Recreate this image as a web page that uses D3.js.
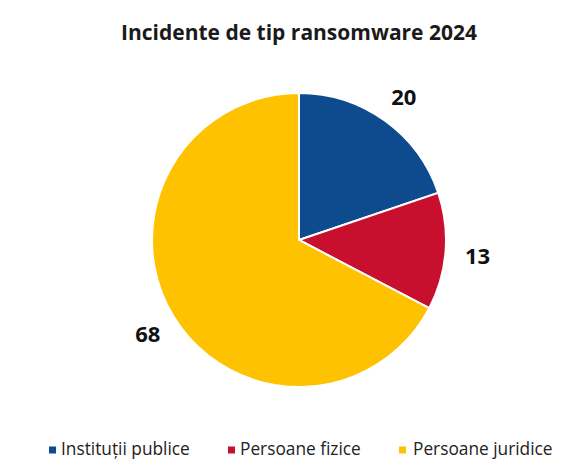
<!DOCTYPE html>
<html>
<head>
<meta charset="utf-8">
<script src="https://cdn.jsdelivr.net/npm/d3@7"></script>
<style>
  html, body { margin: 0; padding: 0; background: #fff; }
  svg { display: block; }
</style>
</head>
<body>
<svg id="chart" width="585" height="469"></svg>
<script>
const title = "Incidente de tip ransomware 2024";
const categories = ["Instituții publice", "Persoane fizice", "Persoane juridice"];
const values = [20, 13, 68];
const colors = ["#0d4a8e", "#c8102e", "#fec200"];

const W = 585, H = 469;
const cx = 299, cy = 240, R = 147, labelR = 178;
const font = "'Open Sans', 'DejaVu Sans', sans-serif";

const svg = d3.select("#chart");

svg.append("text")
  .attr("x", 299).attr("y", 40)
  .attr("text-anchor", "middle")
  .style("font-family", font)
  .style("font-weight", "bold")
  .style("font-size", "21px")
  .style("fill", "#1a1a1a")
  .text(title);

const data = categories.map((c, i) => ({ cat: c, value: values[i], color: colors[i] }));
const pie = d3.pie().value(d => d.value).sort(null);
const arcs = pie(data);
const arc = d3.arc().innerRadius(0).outerRadius(R);
const labelArc = d3.arc().innerRadius(labelR).outerRadius(labelR);

const g = svg.append("g").attr("transform", `translate(${cx},${cy})`);
g.selectAll("path.slice").data(arcs).join("path")
  .attr("class", "slice")
  .attr("d", arc)
  .attr("fill", d => d.data.color)
  .attr("stroke", "#fff")
  .attr("stroke-width", 2);

g.selectAll("text.lbl").data(arcs).join("text")
  .attr("class", "lbl")
  .attr("transform", d => { const [x, y] = labelArc.centroid(d); return `translate(${x + 1},${y + 1})`; })
  .attr("text-anchor", "middle")
  .attr("dominant-baseline", "central")
  .style("font-family", font)
  .style("font-weight", "bold")
  .style("font-size", "22px")
  .style("fill", "#111")
  .text(d => d.data.value);

// legend
const squareX = [49, 228, 399];
const textX = [61, 240, 413];
const lg = svg.append("g");
const items = lg.selectAll("g.item").data(data).join("g")
  .attr("class", "item");
items.append("rect")
  .attr("x", (d, i) => squareX[i]).attr("y", 446.5)
  .attr("width", 7).attr("height", 7)
  .attr("fill", d => d.color);
items.append("text")
  .attr("x", (d, i) => textX[i]).attr("y", 455)
  .style("font-family", font)
  .style("font-size", "17.3px")
  .style("fill", "#222")
  .text(d => d.cat);
</script>
</body>
</html>
